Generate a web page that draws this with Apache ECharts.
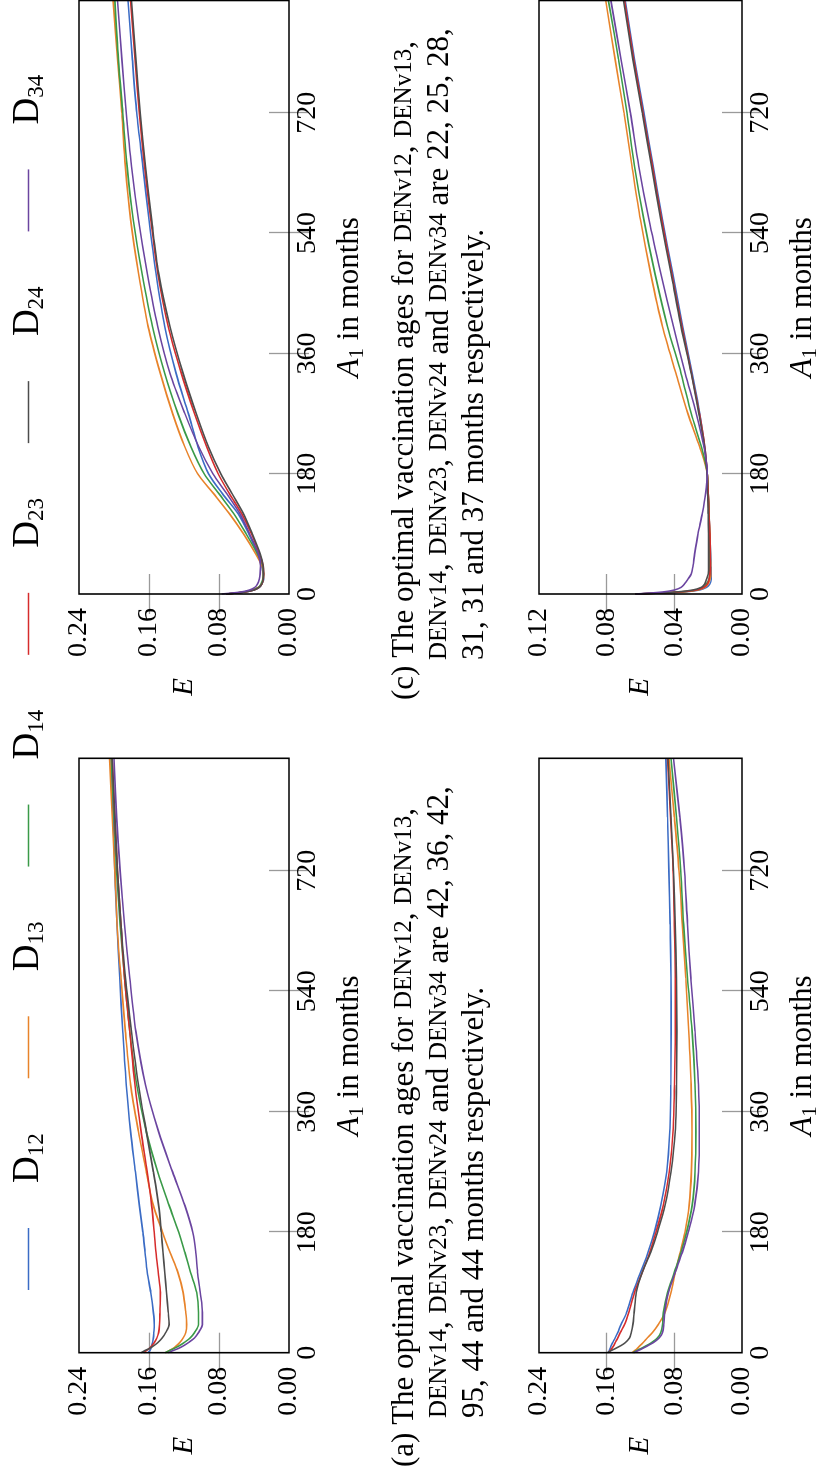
<!DOCTYPE html>
<html><head><meta charset="utf-8">
<script src="https://cdn.jsdelivr.net/npm/echarts@6/dist/echarts.min.js"></script>
<style>
html,body{margin:0;padding:0;background:#fff;width:822px;height:1470px;overflow:hidden}
#rot{position:absolute;left:0;top:0;width:1470px;height:822px;transform-origin:0 0;transform:translate(0px,1470px) rotate(-90deg);}
#chart{width:1470px;height:822px}
</style></head>
<body><div id="rot"><div id="chart"></div></div>
<script>
const seriesNames = ['D12','D13','D14','D23','D24','D34'];
const seriesColors = ['#3b6cc5','#e8832a','#3a9a48','#d62c2c','#4d4d4d','#6b45a0'];
const months = [0,3,6,10,15,22,30,42,60,90,120,150,180,220,270,330,400,480,560,640,720,800,888];
const xTickLabels = [0,180,360,540,720];
const xInnerTicks = [180,360,540,720];
const yLabelsWide = [0,0.08,0.16,0.24];
const yInnerWide = [0.08,0.16];
const yLabelsNarrow = [0,0.04,0.08,0.12];
const yInnerNarrow = [0.04,0.08];

// panel (a)
const A_D12 = [0.161,0.159,0.158,0.157,0.156,0.155,0.1545,0.154,0.155,0.158,0.162,0.1645,0.167,0.171,0.1755,0.181,0.186,0.190,0.1935,0.1965,0.199,0.201,0.203];
const A_D13 = [0.141,0.137,0.133,0.129,0.125,0.121,0.118,0.117,0.118,0.121,0.127,0.136,0.1445,0.155,0.163,0.172,0.181,0.187,0.192,0.1965,0.199,0.202,0.205];
const A_D14 = [0.1417,0.137,0.132,0.126,0.120,0.113,0.108,0.1035,0.1035,0.1055,0.1125,0.119,0.126,0.137,0.150,0.163,0.174,0.182,0.188,0.193,0.197,0.200,0.203];
const A_D23 = [0.166,0.163,0.160,0.157,0.154,0.151,0.149,0.148,0.1475,0.147,0.1495,0.152,0.154,0.157,0.162,0.169,0.176,0.182,0.188,0.192,0.196,0.199,0.202];
const A_D24 = [0.169,0.165,0.160,0.155,0.150,0.145,0.141,0.137,0.138,0.140,0.142,0.144,0.146,0.149,0.155,0.163,0.172,0.180,0.187,0.192,0.196,0.199,0.202];
const A_D34 = [0.138,0.133,0.127,0.121,0.115,0.108,0.1035,0.099,0.099,0.1015,0.1045,0.1065,0.110,0.119,0.133,0.149,0.164,0.175,0.182,0.188,0.193,0.197,0.200];
// panel (b)
const B_D12 = [0.158,0.157,0.156,0.155,0.153,0.150,0.147,0.143,0.1365,0.129,0.120,0.111,0.1036,0.096,0.089,0.0855,0.0842,0.0838,0.084,0.085,0.0865,0.088,0.090];
const B_D13 = [0.130,0.127,0.124,0.121,0.117,0.112,0.106,0.099,0.091,0.084,0.079,0.073,0.0674,0.0625,0.0598,0.0592,0.0602,0.063,0.0665,0.0705,0.0745,0.080,0.0865];
const B_D14 = [0.129,0.125,0.120,0.114,0.107,0.100,0.096,0.094,0.093,0.088,0.080,0.072,0.0655,0.059,0.0555,0.0545,0.0555,0.059,0.0645,0.069,0.0725,0.0775,0.084];
const B_D23 = [0.1577,0.156,0.154,0.152,0.150,0.147,0.144,0.139,0.134,0.127,0.118,0.109,0.1017,0.093,0.086,0.0815,0.0798,0.079,0.079,0.080,0.0815,0.0845,0.088];
const B_D24 = [0.159,0.155,0.150,0.144,0.138,0.133,0.131,0.129,0.1275,0.125,0.118,0.108,0.100,0.091,0.084,0.079,0.0775,0.077,0.0775,0.079,0.081,0.084,0.0875];
const B_D34 = [0.128,0.123,0.118,0.112,0.105,0.098,0.094,0.0925,0.0915,0.087,0.079,0.0705,0.0636,0.056,0.0515,0.0505,0.0515,0.0555,0.0605,0.0645,0.068,0.0735,0.081];
// panel (c)
const C_D12 = [0.072,0.050,0.040,0.034,0.031,0.029,0.0295,0.031,0.036,0.046,0.058,0.076,0.092,0.104,0.115,0.129,0.142,0.152,0.160,0.167,0.174,0.179,0.184];
const C_D13 = [0.072,0.052,0.042,0.035,0.031,0.0295,0.029,0.031,0.038,0.052,0.068,0.086,0.1045,0.119,0.133,0.147,0.161,0.172,0.181,0.187,0.191,0.196,0.201];
const C_D14 = [0.072,0.052,0.042,0.035,0.032,0.030,0.0295,0.030,0.036,0.049,0.063,0.080,0.097,0.112,0.127,0.142,0.156,0.168,0.178,0.185,0.190,0.195,0.199];
const C_D23 = [0.072,0.050,0.040,0.034,0.031,0.0295,0.029,0.0295,0.034,0.043,0.054,0.068,0.081,0.094,0.108,0.123,0.138,0.150,0.158,0.165,0.171,0.176,0.181];
const C_D24 = [0.072,0.050,0.040,0.034,0.031,0.0295,0.029,0.0295,0.033,0.042,0.052,0.065,0.078,0.092,0.106,0.121,0.136,0.149,0.157,0.164,0.170,0.175,0.180];
const C_D34 = [0.077,0.055,0.045,0.039,0.036,0.034,0.033,0.0325,0.035,0.045,0.056,0.071,0.087,0.103,0.119,0.136,0.150,0.162,0.172,0.180,0.186,0.191,0.196];
// panel (d)
const D_D12 = [0.063,0.035,0.025,0.021,0.019,0.0182,0.0182,0.0183,0.0185,0.019,0.0195,0.020,0.0205,0.022,0.025,0.0295,0.035,0.041,0.047,0.0525,0.058,0.0635,0.069];
const D_D13 = [0.063,0.036,0.026,0.022,0.020,0.019,0.0185,0.0185,0.0187,0.019,0.0195,0.020,0.0205,0.025,0.032,0.039,0.047,0.054,0.060,0.065,0.0698,0.075,0.0805];
const D_D14 = [0.063,0.037,0.027,0.023,0.021,0.0195,0.0192,0.019,0.019,0.0192,0.0195,0.020,0.0205,0.024,0.030,0.036,0.044,0.0515,0.058,0.0635,0.068,0.073,0.079];
const D_D23 = [0.063,0.037,0.027,0.0225,0.0205,0.0195,0.019,0.0188,0.0188,0.019,0.0195,0.020,0.0205,0.022,0.0252,0.0298,0.0355,0.0415,0.0475,0.053,0.0585,0.064,0.0695];
const D_D24 = [0.063,0.039,0.029,0.024,0.022,0.021,0.020,0.0197,0.0197,0.0198,0.020,0.0203,0.0207,0.0222,0.0255,0.030,0.036,0.042,0.048,0.0535,0.059,0.0645,0.070];
const D_D34 = [0.063,0.047,0.040,0.036,0.034,0.032,0.030,0.029,0.028,0.026,0.0235,0.0215,0.0205,0.0225,0.027,0.0335,0.0405,0.048,0.055,0.061,0.066,0.0715,0.0775];

const captionA = ['(a) The optimal vaccination ages for ', 'DENv14, DENv23, DENv24 and DENv34 are 42, 36, 42,', '95, 44 and 44 months respectively.'];
const captionC = ['(c) The optimal vaccination ages for ', 'DENv14, DENv23, DENv24 and DENv34 are 22, 25, 28,', '31, 31 and 37 months respectively.'];

const SERIF = "Liberation Serif";
const panels = [
  {grid:{left:117.3, top:79, width:594.4, height:210}, ymax:0.24, yl:yLabelsWide, yi:yInnerWide, data:[A_D12,A_D13,A_D14,A_D23,A_D24,A_D34]},
  {grid:{left:876, top:79, width:593.5, height:210}, ymax:0.24, yl:yLabelsWide, yi:yInnerWide, data:[C_D12,C_D13,C_D14,C_D23,C_D24,C_D34]},
  {grid:{left:117.3, top:539, width:594.4, height:210}, ymax:0.24, yl:yLabelsWide, yi:yInnerWide, data:[B_D12,B_D13,B_D14,B_D23,B_D24,B_D34]},
  {grid:{left:876, top:539, width:593.5, height:210}, ymax:0.12, yl:yLabelsNarrow, yi:yInnerNarrow, data:[D_D12,D_D13,D_D14,D_D23,D_D24,D_D34]}
];

const tickStyle = {show:true, inside:true, length:20, lineStyle:{color:'#9a9a9a', width:1.3}};
const grids = [], xAxes = [], yAxes = [], series = [];
panels.forEach((p, pi) => {
  grids.push(Object.assign({show:true, borderColor:'#000', borderWidth:1.6, backgroundColor:'transparent', z:3}, p.grid));
  const xb = {type:'value', gridIndex:pi, position:'bottom', min:0, max:888, interval:180,
    axisLine:{show:false}, splitLine:{show:false},
    axisTick:Object.assign({customValues:xInnerTicks}, tickStyle),
    axisLabel:{customValues:xTickLabels, margin:5, fontFamily:SERIF, fontSize:28, color:'#000'},
    name:'{a|A}{s|1} in months', nameLocation:'middle', nameGap:43,
    nameTextStyle:{fontFamily:SERIF, fontSize:31, color:'#000', lineHeight:36,
      rich:{a:{fontFamily:SERIF, fontStyle:'italic', fontSize:31, lineHeight:36},
            s:{fontFamily:SERIF, fontSize:21, lineHeight:20, verticalAlign:'bottom'}}}};
  const xt = {type:'value', gridIndex:pi, position:'top', min:0, max:888, interval:180,
    axisLine:{show:false}, splitLine:{show:false},
    axisTick:Object.assign({customValues:xInnerTicks}, tickStyle), axisLabel:{show:false}};
  const yl = {type:'value', gridIndex:pi, position:'left', min:0, max:p.ymax,
    axisLine:{show:false}, splitLine:{show:false},
    axisTick:Object.assign({customValues:p.yi}, tickStyle),
    axisLabel:{customValues:p.yl, margin:14, fontFamily:SERIF, fontSize:28, color:'#000', formatter:v=>v.toFixed(2)},
    name:'E', nameLocation:'middle', nameRotate:0, nameGap:84,
    nameTextStyle:{fontFamily:SERIF, fontStyle:'italic', fontSize:29, color:'#000'}};
  const yr = {type:'value', gridIndex:pi, position:'right', min:0, max:p.ymax,
    axisLine:{show:false}, splitLine:{show:false},
    axisTick:Object.assign({customValues:p.yi}, tickStyle), axisLabel:{show:false}};
  xAxes.push(xb, xt); yAxes.push(yl, yr);
  p.data.forEach((vals, si) => {
    series.push({type:'line', name:seriesNames[si], xAxisIndex:2*pi, yAxisIndex:2*pi,
      data:months.map((m,i)=>[m, vals[i]]), showSymbol:false, symbol:'none',
      smooth:0.3, color:seriesColors[si],
      lineStyle:{width:1.6, color:seriesColors[si]}, z:2});
  });
});

function captionGraphics(lines, x1, x2, yc){
  const rich = {n:{fontFamily:SERIF, fontSize:31, fill:'#000'}, k:{fontFamily:SERIF, fontSize:25, fill:'#000'}};
  return [
    {type:'text', left:x1, top:yc-19, style:{text:'{n|'+lines[0]+'}{k|DENv12}{n|, }{k|DENv13}{n|,}', rich}},
    {type:'text', left:x2, top:yc+35-19, style:{text:'{k|DENv14}{n|, }{k|DENv23}{n|, }{k|DENv24}{n| and }{k|DENv34}{n|'+lines[1].split('DENv34')[1]+'}', rich}},
    {type:'text', left:x2, top:yc+70-19, style:{text:'{n|'+lines[2]+'}', rich}}
  ];
}

const chart = echarts.init(document.getElementById('chart'), null, {renderer:'canvas', width:1470, height:822});
chart.setOption({
  animation:false,
  backgroundColor:'#fff',
  legend:{data:seriesNames, left:175, top:5, icon:'rect', itemWidth:62, itemHeight:1.3, itemGap:55,
    formatter:name=>'{d|D}{s|'+name.slice(1)+'}',
    textStyle:{rich:{d:{fontFamily:SERIF, fontSize:37, lineHeight:40, padding:[0,0,0,40], color:'#000'},
                     s:{fontFamily:SERIF, fontSize:23, lineHeight:22, verticalAlign:'bottom', color:'#000'}}}},
  grid:grids, xAxis:xAxes, yAxis:yAxes, series:series,
  graphic:[].concat(captionGraphics(captionA, 3, 52, 408), captionGraphics(captionC, 770, 810, 408))
});
</script></body></html>
